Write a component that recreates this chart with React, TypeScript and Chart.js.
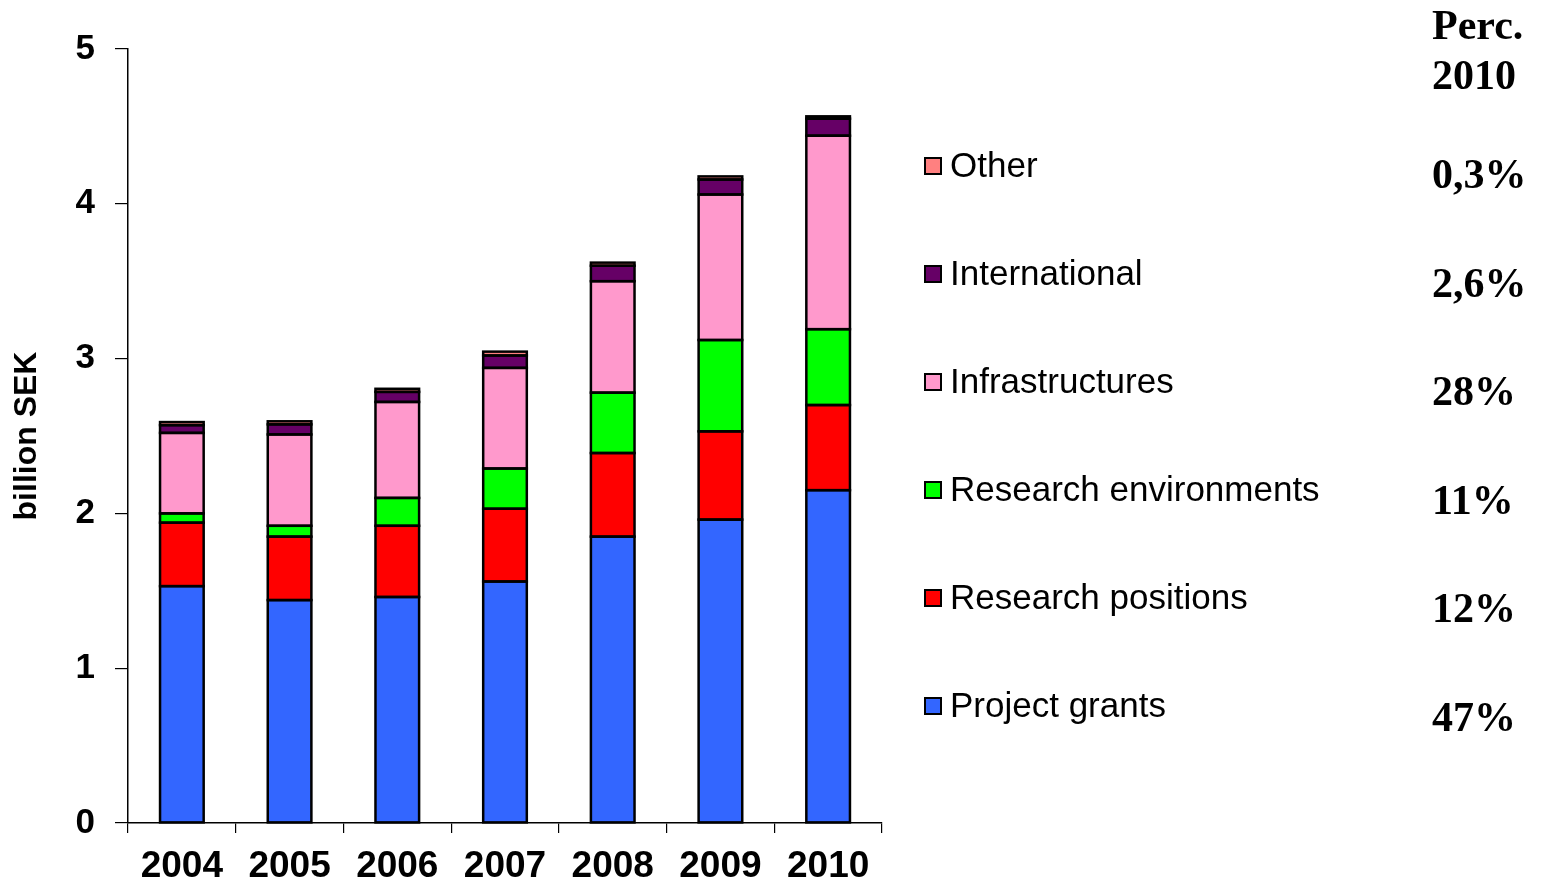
import React, { useEffect, useRef } from "react";
import { Chart, registerables } from "chart.js";

Chart.register(...registerables);

const categories = ["2004", "2005", "2006", "2007", "2008", "2009", "2010"];
const projectGrants = [1.53, 1.44, 1.46, 1.56, 1.85, 1.96, 2.15];
const researchPositions = [0.41, 0.41, 0.46, 0.47, 0.54, 0.57, 0.55];
const researchEnvironments = [0.06, 0.07, 0.18, 0.26, 0.39, 0.59, 0.49];
const infrastructures = [0.52, 0.59, 0.62, 0.65, 0.72, 0.94, 1.25];
const international = [0.05, 0.065, 0.065, 0.08, 0.1, 0.097, 0.11];
const other = [0.02, 0.02, 0.02, 0.025, 0.02, 0.02, 0.015];

const seriesNames = [
  "Project grants",
  "Research positions",
  "Research environments",
  "Infrastructures",
  "International",
  "Other",
];
const seriesColors = ["#3366FF", "#FF0000", "#00FF00", "#FF99CC", "#660066", "#FF8080"];
const percentHeader = ["Perc.", "2010"];
const percentLabels = ["47%", "12%", "11%", "28%", "2,6%", "0,3%"];

const SANS = "'Liberation Sans', Arial, sans-serif";
const SERIF = "'Liberation Serif', 'Times New Roman', serif";

const outlinePlugin = {
  id: "barOutlines",
  afterDatasetsDraw(chart: any) {
    const ctx = chart.ctx;
    ctx.save();
    ctx.strokeStyle = "#000";
    ctx.lineWidth = 2.5;
    chart.data.datasets.forEach((_: any, di: number) => {
      const meta = chart.getDatasetMeta(di);
      meta.data.forEach((el: any) => {
        const { x, y, base, width } = el.getProps(["x", "y", "base", "width"], true);
        const top = Math.min(y, base);
        const h = Math.abs(base - y);
        ctx.strokeRect(x - width / 2, top, width, h);
      });
    });
    ctx.restore();
  },
};

const sidePlugin = {
  id: "sidePanel",
  afterDraw(chart: any) {
    const ctx = chart.ctx;
    ctx.save();
    const n = seriesNames.length;
    for (let k = 0; k < n; k++) {
      const i = n - 1 - k;
      const cy = 166 + k * 108;
      ctx.fillStyle = "#000";
      ctx.fillRect(924, cy - 9, 18, 18);
      ctx.fillStyle = seriesColors[i];
      ctx.fillRect(926, cy - 7, 14, 14);
      ctx.fillStyle = "#000";
      ctx.font = `35px ${SANS}`;
      ctx.textAlign = "left";
      ctx.textBaseline = "middle";
      ctx.fillText(seriesNames[i], 950, cy + 1);
      ctx.font = `bold 42px ${SERIF}`;
      ctx.textBaseline = "alphabetic";
      ctx.fillText(percentLabels[i], 1432, 188 + k * 108.5);
    }
    ctx.font = `bold 42px ${SERIF}`;
    ctx.textBaseline = "alphabetic";
    ctx.fillText(percentHeader[0], 1432, 39);
    ctx.fillText(percentHeader[1], 1432, 89);
    ctx.restore();
  },
};

export default function App() {
  const ref = useRef<HTMLCanvasElement | null>(null);
  useEffect(() => {
    document.body.style.margin = "0";
    const valueSets = [
      projectGrants,
      researchPositions,
      researchEnvironments,
      infrastructures,
      international,
      other,
    ];
    const chart = new Chart(ref.current as HTMLCanvasElement, {
      type: "bar",
      data: {
        labels: categories,
        datasets: valueSets.map((vals, i) => ({
          label: seriesNames[i],
          data: vals,
          backgroundColor: seriesColors[i],
          borderWidth: 0,
          inflateAmount: 0,
          barPercentage: 0.405,
          categoryPercentage: 1,
        })),
      },
      options: {
        animation: false,
        responsive: false,
        devicePixelRatio: 1,
        layout: { padding: { left: 0, top: 49, right: 661, bottom: 0 } },
        plugins: {
          legend: { display: false },
          tooltip: { enabled: false },
        },
        scales: {
          x: {
            stacked: true,
            afterFit: (s: any) => {
              s.height = 61;
            },
            grid: {
              display: true,
              offset: true,
              drawOnChartArea: false,
              drawTicks: true,
              tickLength: 10,
              color: "#000",
              lineWidth: 1.2,
            },
            border: { display: true, color: "#000", width: 1.5 },
            ticks: {
              color: "#000",
              font: { family: SANS, size: 37, weight: "bold" },
              padding: 12,
              maxRotation: 0,
              autoSkip: false,
            },
          },
          y: {
            stacked: true,
            min: 0,
            max: 5,
            afterFit: (s: any) => {
              s.width = 128;
            },
            grid: {
              display: true,
              drawOnChartArea: false,
              drawTicks: true,
              tickLength: 13,
              color: "#000",
              lineWidth: 1.2,
            },
            border: { display: true, color: "#000", width: 1.5 },
            ticks: {
              stepSize: 1,
              color: "#000",
              font: { family: SANS, size: 35, weight: "bold" },
              padding: 20,
            },
            title: {
              display: true,
              text: "billion SEK",
              color: "#000",
              font: { family: SANS, size: 32, weight: "bold" },
              padding: { top: 8, bottom: 0 },
            },
          },
        },
      },
      plugins: [outlinePlugin, sidePlugin],
    });
    return () => chart.destroy();
  }, []);
  return (
    <div style={{ width: 1543, height: 884, position: "relative" }}>
      <canvas ref={ref} width={1543} height={884} style={{ display: "block" }} />
    </div>
  );
}
